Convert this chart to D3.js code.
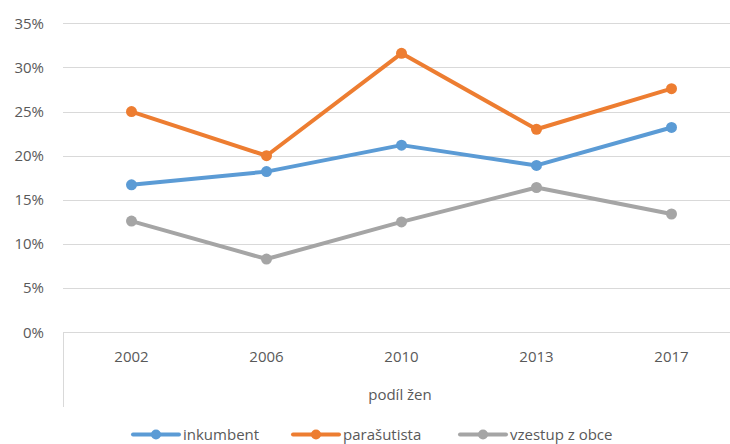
<!DOCTYPE html>
<html><head><meta charset="utf-8">
<script src="https://cdn.jsdelivr.net/npm/d3@7"></script>
<style>
html,body{margin:0;padding:0;background:#fff;}
svg{display:block;font-family:"Open Sans","Noto Sans",sans-serif;}
</style></head>
<body>
<script>
const years = ["2002","2006","2010","2013","2017"];
const inkumbent = [0.167, 0.182, 0.212, 0.189, 0.232];
const parasutista = [0.250, 0.200, 0.316, 0.230, 0.276];
const vzestup = [0.126, 0.083, 0.125, 0.164, 0.134];
const yTicks = [0, 0.05, 0.10, 0.15, 0.20, 0.25, 0.30, 0.35];
const seriesNames = ["inkumbent", "parašutista", "vzestup z obce"];
const seriesColors = ["#5B9BD5", "#ED7D31", "#A5A5A5"];
const groupLabel = "podíl žen";

const series = [inkumbent, parasutista, vzestup].map((vals, i) => ({
  name: seriesNames[i], color: seriesColors[i],
  points: vals.map((v, j) => ({ year: years[j], v }))
}));

const W = 730, H = 444;
const svg = d3.select("body").append("svg").attr("width", W).attr("height", H);

const x = d3.scaleBand().domain(years).range([64, 739]);
const y = d3.scaleLinear().domain([0, 0.35]).range([332.3, 23.3]);

// gridlines
svg.append("g").selectAll("line").data(yTicks.slice(1)).join("line")
  .attr("x1", 63).attr("x2", W)
  .attr("y1", d => Math.round(y(d)) + 0.5).attr("y2", d => Math.round(y(d)) + 0.5)
  .attr("stroke", "#D9D9D9").attr("stroke-width", 1);

// x axis line
svg.append("line").attr("x1", 63).attr("x2", W)
  .attr("y1", Math.round(y(0)) + 0.5).attr("y2", Math.round(y(0)) + 0.5)
  .attr("stroke", "#D9D9D9");
svg.append("line").attr("x1", 63.5).attr("x2", 63.5)
  .attr("y1", y(0)).attr("y2", 407)
  .attr("stroke", "#D9D9D9");

// y labels
svg.append("g").selectAll("text").data(yTicks).join("text")
  .attr("x", 44).attr("y", d => y(d)).attr("dy", "0.35em")
  .attr("text-anchor", "end").attr("font-size", 15).attr("fill", "#595959")
  .text(d => d3.format(".0%")(d));

// x labels
svg.append("g").selectAll("text").data(years).join("text")
  .attr("x", d => x(d) + x.bandwidth() / 2).attr("y", 357).attr("dy", "0.35em")
  .attr("text-anchor", "middle").attr("font-size", 15).attr("fill", "#595959")
  .text(d => d);
svg.append("text").attr("x", 400).attr("y", 395).attr("dy", "0.35em")
  .attr("text-anchor", "middle").attr("font-size", 15).attr("fill", "#595959")
  .text(groupLabel);

// lines
const line = d3.line().x(d => x(d.year) + x.bandwidth() / 2).y(d => y(d.v));
const g = svg.append("g");
series.forEach(s => {
  g.append("path").datum(s.points).attr("d", line)
    .attr("fill", "none").attr("stroke", s.color).attr("stroke-width", 4)
    .attr("stroke-linejoin", "round").attr("stroke-linecap", "round");
  g.append("g").selectAll("circle").data(s.points).join("circle")
    .attr("cx", d => x(d.year) + x.bandwidth() / 2).attr("cy", d => y(d.v))
    .attr("r", 5.5).attr("fill", s.color);
});

// legend
const legX = [133, 293, 460];
const legY = 434.5;
const leg = svg.append("g");
series.forEach((s, i) => {
  const gx = leg.append("g").attr("transform", `translate(${legX[i]},${legY})`);
  gx.append("line").attr("x1", 0).attr("x2", 46).attr("y1", 0).attr("y2", 0)
    .attr("stroke", s.color).attr("stroke-width", 4).attr("stroke-linecap", "round");
  gx.append("circle").attr("cx", 23).attr("cy", 0).attr("r", 5).attr("fill", s.color);
  gx.append("text").attr("x", 50).attr("y", 0).attr("dy", "0.35em")
    .attr("font-size", 15).attr("fill", "#595959").text(s.name);
});
</script>
</body></html>
